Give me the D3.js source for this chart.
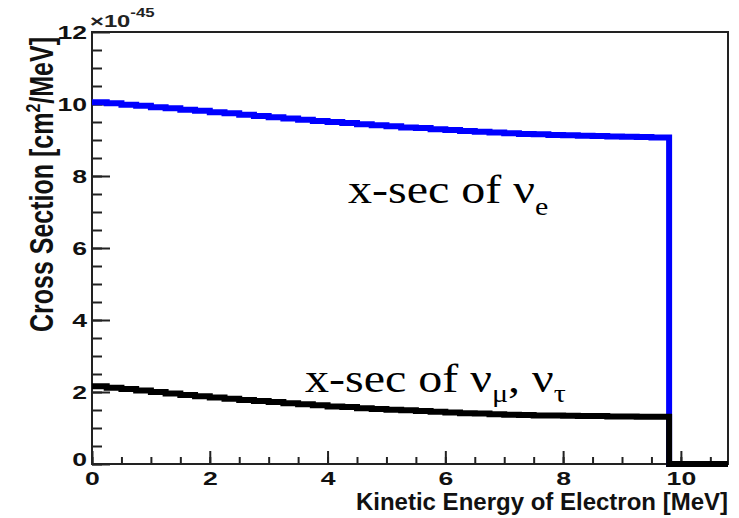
<!DOCTYPE html>
<html lang="en">
    <head>
        <meta charset="UTF-8">
        <script src="https://cdn.jsdelivr.net/npm/d3@7"></script>
        <title>Cross Section</title>
        <style>
            body { margin: 0; background: #fff; }
            .axis path, .axis line { stroke: #222; }
            .axis text { font-family: "Liberation Sans", Arial, sans-serif; font-weight: bold; font-size: 19px; fill: #111; }
        </style>
    </head>
    <body>
        <div id="canvas"></div>

        <script>
            //  bin edges in MeV (0.25 MeV bins), endpoint at 9.8
            var energyEdges = [0, 0.25, 0.5, 0.75, 1, 1.25, 1.5, 1.75, 2, 2.25, 2.5, 2.75, 3, 3.25, 3.5, 3.75,
                4, 4.25, 4.5, 4.75, 5, 5.25, 5.5, 5.75, 6, 6.25, 6.5, 6.75, 7, 7.25, 7.5, 7.75,
                8, 8.25, 8.5, 8.75, 9, 9.25, 9.5, 9.75, 9.8, 10.8];
            //  x-sec of nu_e, units 1e-45 cm2/MeV
            var nuE = [10.05, 10.02, 9.98, 9.95, 9.91, 9.88, 9.84, 9.81, 9.77, 9.74, 9.70, 9.67, 9.63, 9.60, 9.56, 9.53,
                9.50, 9.47, 9.44, 9.41, 9.38, 9.35, 9.33, 9.30, 9.28, 9.25, 9.23, 9.21, 9.19, 9.17, 9.16, 9.14,
                9.13, 9.12, 9.11, 9.10, 9.09, 9.08, 9.07, 9.07, 0];
            //  x-sec of nu_mu, nu_tau
            var nuMuTau = [2.16, 2.12, 2.08, 2.04, 2.00, 1.96, 1.92, 1.88, 1.85, 1.81, 1.78, 1.75, 1.72, 1.69, 1.66, 1.63,
                1.60, 1.58, 1.55, 1.53, 1.51, 1.49, 1.47, 1.45, 1.43, 1.41, 1.40, 1.38, 1.37, 1.36, 1.35, 1.35,
                1.34, 1.33, 1.33, 1.32, 1.32, 1.31, 1.31, 1.31, 0];
            var xTicks = [0, 2, 4, 6, 8, 10];
            var yTicks = [0, 2, 4, 6, 8, 10, 12];

            var W = 739, H = 518;
            //  note: "top" is taken by window.top, so use other names
            var padL = 92, padR = 728, padT = 32, padB = 464;
            var stretch = 1.4;

            var x = d3.scaleLinear().domain([0, 10.8]).range([padL, padR]);
            var y = d3.scaleLinear().domain([0, 12]).range([padB, padT]);

            var svg = d3.select("#canvas").append("svg")
                    .attr("width", W)
                    .attr("height", H);

            //  frame
            svg.append("rect")
                    .attr("x", padL).attr("y", padT)
                    .attr("width", padR - padL).attr("height", padB - padT)
                    .attr("fill", "none").attr("stroke", "#222").attr("stroke-width", 2);

            //  minor ticks
            svg.append("g").classed("axis", true)
                    .attr("transform", "translate(0," + padB + ")")
                    .call(d3.axisBottom(x).tickValues(d3.range(0, 10.8, 0.5)).tickSize(-7).tickFormat(""))
                    .call(function (g) { g.select(".domain").remove(); })
                    .selectAll("line").attr("stroke-width", 2);
            svg.append("g").classed("axis", true)
                    .attr("transform", "translate(" + padL + ",0)")
                    .call(d3.axisLeft(y).tickValues(d3.range(0, 12, 0.5)).tickSize(-10).tickFormat(""))
                    .call(function (g) { g.select(".domain").remove(); })
                    .selectAll("line").attr("stroke-width", 2);

            //  major ticks + labels
            var xAxis = svg.append("g").classed("axis", true)
                    .attr("transform", "translate(0," + padB + ")")
                    .call(d3.axisBottom(x).tickValues(xTicks).tickSize(-13).tickFormat(d3.format("d")));
            xAxis.select(".domain").remove();
            xAxis.selectAll("line").attr("stroke-width", 2);
            xAxis.selectAll("text")
                    .attr("y", 21).attr("dy", 0)
                    .attr("transform", "scale(" + stretch + ",1)");

            var yAxis = svg.append("g").classed("axis", true)
                    .attr("transform", "translate(" + padL + ",0)")
                    .call(d3.axisLeft(y).tickValues(yTicks).tickSize(-18).tickFormat(d3.format("d")));
            yAxis.select(".domain").remove();
            yAxis.selectAll("line").attr("stroke-width", 2);
            yAxis.selectAll("text")
                    .attr("x", -5 / stretch)
                    .attr("dy", "0.36em")
                    .attr("transform", "scale(" + stretch + ",1)");
            //  ROOT puts the y "0" a bit low
            yAxis.selectAll(".tick").filter(function (d) { return d === 0; })
                    .select("text").attr("dy", "0.1em");

            //  histograms
            function steps(vals) {
                var pts = vals.map(function (v, i) { return [energyEdges[i], v]; });
                pts.push([energyEdges[energyEdges.length - 1], vals[vals.length - 1]]);
                return pts;
            }
            var line = d3.line()
                    .x(function (d) { return x(d[0]); })
                    .y(function (d) { return y(d[1]); })
                    .curve(d3.curveStepAfter);

            svg.append("path")
                    .attr("d", line(steps(nuE)))
                    .attr("fill", "none").attr("stroke", "#0000ff").attr("stroke-width", 6);
            svg.append("path")
                    .attr("d", line(steps(nuMuTau)))
                    .attr("fill", "none").attr("stroke", "#000").attr("stroke-width", 6);

            //  axis titles
            svg.append("text")
                    .attr("x", padR).attr("y", 510)
                    .attr("text-anchor", "end")
                    .style("font-family", "Liberation Sans, Arial, sans-serif")
                    .style("font-weight", "bold").style("font-size", "24px").style("fill", "#111")
                    .text("Kinetic Energy of Electron [MeV]");

            var yTitle = svg.append("text")
                    .attr("transform", "translate(53,37) scale(1.3,1) rotate(-90)")
                    .attr("text-anchor", "end")
                    .style("font-family", "Liberation Sans, Arial, sans-serif")
                    .style("font-weight", "bold").style("font-size", "25px").style("fill", "#111");
            yTitle.append("tspan").text("Cross Section [cm");
            yTitle.append("tspan").attr("dy", -10).style("font-size", "16px").text("2");
            yTitle.append("tspan").attr("dy", 10).text("/MeV]");

            //  exponent
            var expo = svg.append("text")
                    .attr("transform", "translate(90,27) scale(1.4,1)")
                    .style("font-family", "Liberation Sans, Arial, sans-serif")
                    .style("font-weight", "bold").style("font-size", "17px").style("fill", "#222");
            expo.append("tspan").text("\u00d710");
            expo.append("tspan").attr("dy", -10).style("font-size", "12px").text("-45");

            //  annotations
            var serif = "Liberation Serif, Times New Roman, serif";
            var a1 = svg.append("text")
                    .attr("transform", "translate(348,203) scale(1.2,1)")
                    .style("font-family", serif).style("font-size", "40px");
            a1.append("tspan").text("x-sec of \u03bd");
            a1.append("tspan").attr("dy", 12).style("font-size", "25px").text("e");

            var a2 = svg.append("text")
                    .attr("transform", "translate(305,392) scale(1.2,1)")
                    .style("font-family", serif).style("font-size", "40px");
            a2.append("tspan").text("x-sec of \u03bd");
            a2.append("tspan").attr("dy", 10).style("font-size", "25px").text("\u03bc");
            a2.append("tspan").attr("dy", -10).text(", \u03bd");
            a2.append("tspan").attr("dy", 10).style("font-size", "25px").text("\u03c4");
        </script>
    </body>
</html>
